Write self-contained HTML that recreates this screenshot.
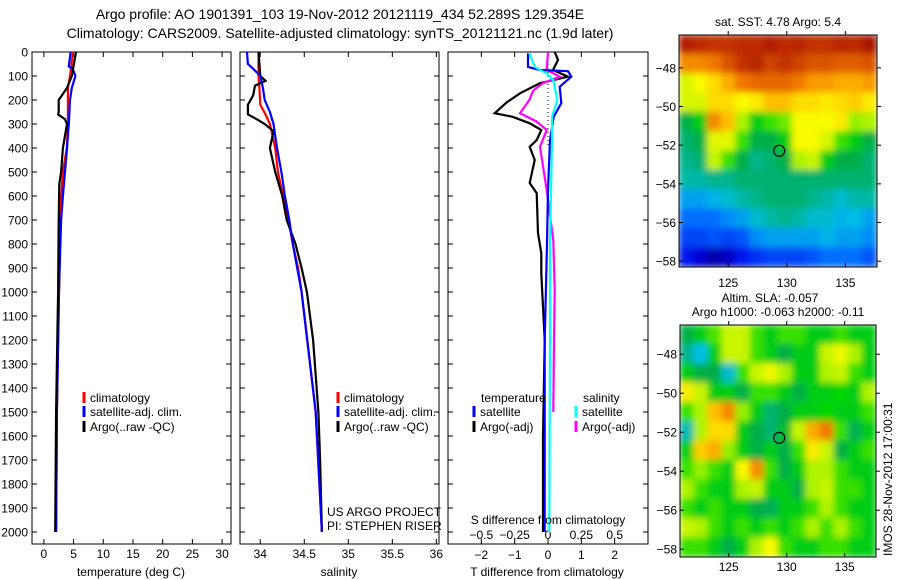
<!DOCTYPE html>
<html><head><meta charset="utf-8"><style>
body{margin:0;background:#fff;}
svg{display:block;font-family:"Liberation Sans",sans-serif;}
</style></head><body>
<svg id="c" width="900" height="580" viewBox="0 0 900 580" xmlns="http://www.w3.org/2000/svg">
<defs>
<filter id="bl" x="-5%" y="-5%" width="110%" height="110%"><feGaussianBlur stdDeviation="3.5"/></filter>
<clipPath id="cm1"><rect x="679" y="35" width="198" height="232"/></clipPath>
<clipPath id="cm2"><rect x="680" y="325" width="196" height="232"/></clipPath>
</defs>
<text x="340" y="19" font-size="14" text-anchor="middle">Argo profile: AO 1901391_103 19-Nov-2012 20121119_434 52.289S 129.354E</text>
<text x="340" y="38" font-size="14" text-anchor="middle">Climatology: CARS2009. Satellite-adjusted climatology: synTS_20121121.nc (1.9d later)</text>
<g id="root"></g>
</svg>
<script>
// ---- data ----
const tDepth = [0,100,150,180,200,250,260,280,300,400,500,550,700,1000,1500,2000];
const tArgo  = [5.4,4.7,3.9,3.05,2.5,2.5,2.4,3.55,3.9,3.2,2.9,2.6,2.5,2.4,2.05,1.9];
const tcDepth = [0,100,150,200,300,400,500,600,800,1000,1500,2000];
const tClim = [4.9,4.4,4.05,4.05,4.05,3.85,3.2,2.9,2.7,2.55,2.2,2.05];
const tsDepth = [0,60,70,100,150,200,300,400,500,600,700,1000,1500,2000];
const tSat = [4.5,4.2,4.85,5.3,4.7,4.4,4.2,3.9,3.55,3.2,2.9,2.55,2.2,2.05];

const sDepth = [0,100,120,140,180,220,260,280,300,330,400,500,600,700,800,900,1000,1200,1500,1700,2000];
const sArgo = [33.98,34.0,34.06,33.94,33.92,33.86,33.86,33.96,34.05,34.15,34.11,34.17,34.25,34.3,34.4,34.47,34.53,34.6,34.66,34.68,34.7];
const scDepth = [0,100,150,220,260,300,400,500,600,700,800,900,1000,1500,2000];
const sClim = [33.98,33.98,33.99,34.0,34.06,34.11,34.17,34.2,34.26,34.32,34.37,34.43,34.47,34.63,34.7];
const ssDepth = [0,50,70,100,150,200,250,300,400,500,600,700,800,900,1000,1500,2000];
const sSat = [33.85,33.86,33.92,34.0,34.03,34.05,34.11,34.15,34.19,34.24,34.28,34.33,34.37,34.42,34.47,34.63,34.7];

const dtaDepth = [0,33,75,103,130,172,210,255,270,297,325,367,395,450,546,588,755,838,922,1200,1600,2000];
const dTArgo = [0.2,0.3,0.15,0.6,-0.24,-0.84,-1.24,-1.6,-1.06,-0.55,-0.2,-0.34,-0.55,-0.4,-0.55,-0.34,-0.3,-0.2,-0.2,-0.1,-0.15,-0.15];
const dtsDepth = [5,62,75,80,103,145,213,270,367,575,800,1200,2000];
const dTSat = [-0.6,-0.6,-0.25,0.6,0.7,0.35,0.4,0.17,0.06,0,-0.03,-0.1,-0.1];
const dssDepth = [5,62,90,117,200,270,367,800,1200,2000];
const dSSat = [-0.14,-0.1,-0.01,0.04,0.07,0.03,0.03,0.015,0.015,0.01];
const dsaDepth = [0,75,103,130,160,200,255,290,325,395,575,785,995,1200,1500];
const dSArgo = [0,-0.01,0.09,-0.04,-0.11,-0.14,-0.21,-0.085,-0.01,-0.06,-0.01,0.04,0.05,0.045,0.04];

const depthTicks = [0,100,200,300,400,500,600,700,800,900,1000,1100,1200,1300,1400,1500,1600,1700,1800,1900,2000];
const tTicks = [0,5,10,15,20,25,30];
const sTicks = [34,34.5,35,35.5,36];
const dTTicks = [-2,-1,0,1,2];
const dSTicks = [-0.5,-0.25,0,0.25,0.5];
const latTicks = [-48,-50,-52,-54,-56,-58];
const lonTicks = [125,130,135];

const sstGrid = [
[0.95,0.93,0.92,0.92,0.93,0.93,0.95,0.93,0.94,0.92,0.92,0.94,0.93,0.97],
[0.82,0.82,0.84,0.88,0.92,0.94,0.9,0.92,0.9,0.88,0.88,0.87,0.87,0.88],
[0.65,0.68,0.72,0.78,0.84,0.86,0.86,0.86,0.84,0.8,0.8,0.78,0.78,0.8],
[0.65,0.65,0.72,0.72,0.68,0.7,0.76,0.76,0.72,0.72,0.7,0.72,0.74,0.7],
[0.45,0.5,0.82,0.76,0.62,0.5,0.55,0.58,0.68,0.68,0.68,0.7,0.6,0.62],
[0.42,0.45,0.66,0.66,0.55,0.45,0.45,0.5,0.68,0.68,0.65,0.55,0.5,0.45],
[0.4,0.42,0.64,0.55,0.45,0.4,0.42,0.45,0.62,0.64,0.5,0.45,0.45,0.42],
[0.38,0.38,0.4,0.4,0.42,0.42,0.42,0.42,0.42,0.42,0.42,0.42,0.42,0.42],
[0.3,0.3,0.32,0.35,0.38,0.4,0.42,0.42,0.42,0.4,0.38,0.35,0.38,0.38],
[0.25,0.25,0.25,0.28,0.3,0.35,0.38,0.4,0.38,0.35,0.35,0.32,0.33,0.3],
[0.2,0.2,0.22,0.2,0.22,0.28,0.3,0.3,0.3,0.3,0.32,0.3,0.3,0.28],
[0.15,0.1,0.05,0.08,0.15,0.18,0.2,0.2,0.2,0.22,0.25,0.25,0.25,0.22]];
const slaGrid = [
[0.45,0.5,0.56,0.64,0.64,0.55,0.5,0.55,0.55,0.5,0.5,0.55,0.5,0.5],
[0.4,0.33,0.5,0.64,0.64,0.55,0.5,0.45,0.5,0.5,0.64,0.67,0.62,0.5],
[0.5,0.45,0.45,0.35,0.55,0.64,0.67,0.62,0.5,0.5,0.62,0.64,0.55,0.5],
[0.7,0.64,0.5,0.5,0.45,0.55,0.55,0.5,0.45,0.5,0.5,0.52,0.5,0.62],
[0.55,0.62,0.76,0.82,0.6,0.5,0.42,0.45,0.5,0.5,0.52,0.5,0.5,0.55],
[0.37,0.62,0.72,0.72,0.5,0.45,0.42,0.47,0.64,0.78,0.84,0.55,0.44,0.5],
[0.5,0.74,0.78,0.6,0.5,0.45,0.5,0.45,0.55,0.7,0.64,0.45,0.5,0.55],
[0.55,0.6,0.55,0.5,0.68,0.82,0.55,0.45,0.5,0.62,0.62,0.55,0.5,0.5],
[0.62,0.55,0.5,0.5,0.62,0.64,0.5,0.5,0.45,0.62,0.64,0.55,0.55,0.5],
[0.55,0.5,0.55,0.5,0.5,0.45,0.44,0.5,0.5,0.55,0.62,0.55,0.5,0.5],
[0.64,0.62,0.55,0.5,0.55,0.5,0.55,0.5,0.55,0.62,0.55,0.62,0.55,0.5],
[0.55,0.55,0.5,0.45,0.5,0.62,0.68,0.55,0.5,0.5,0.55,0.55,0.5,0.5]];
const argoLon = 129.354, argoLat = -52.289;

// ---- helpers ----
const NS="http://www.w3.org/2000/svg";
const root=document.getElementById('root');
function el(tag,attrs,parent){const e=document.createElementNS(NS,tag);for(const k in attrs)e.setAttribute(k,attrs[k]);(parent||root).appendChild(e);return e;}
function txt(s,attrs,parent){const e=el('text',attrs,parent);e.textContent=s;return e;}
const Y0=52,Y1=544,DMAX=2050;
const yD=d=>Y0+d/DMAX*(Y1-Y0);

function panel(name,x0,x1,vmin,vmax){
  const g=el('g',{});
  
  
  const r=el('rect',{x:x0,y:Y0,width:x1-x0,height:Y1-Y0,fill:'none',stroke:'#000','stroke-width':1},g);
  
  
  return {g,x:v=>x0+(v-vmin)/(vmax-vmin)*(x1-x0),x0,x1};
}
function line(p,depths,vals,color,name,conv){
  const pts=depths.map((d,i)=>p.x(conv?conv(vals[i]):vals[i]).toFixed(1)+','+yD(d).toFixed(1)).join(' ');
  const l=el('polyline',{points:pts,fill:'none',stroke:color,'stroke-width':2.2,'stroke-linejoin':'miter'},p.g);
  
  
}
function xticks(p,ticks,conv,labelY,withLabels){
  ticks.forEach(t=>{
    const x=p.x(conv?conv(t):t);
    el('line',{x1:x,x2:x,y1:Y0,y2:Y0+5,stroke:'#000'},p.g);
    el('line',{x1:x,x2:x,y1:Y1,y2:Y1-5,stroke:'#000'},p.g);
    if(withLabels){const e=txt(String(t).replace('-','\u2212'),{x:x,y:labelY,'font-size':12,'text-anchor':'middle'},p.g);
      
      }
  });
}
function yticks(p,labels){
  depthTicks.forEach(d=>{
    const y=yD(d);
    el('line',{x1:p.x0,x2:p.x0+5,y1:y,y2:y,stroke:'#000'},p.g);
    el('line',{x1:p.x1,x2:p.x1-5,y1:y,y2:y,stroke:'#000'},p.g);
    if(labels){const e=txt(String(d),{x:p.x0-4,y:y+4.5,'font-size':12,'text-anchor':'end'},p.g);
      
      }
  });
}
function legendItem(g,x,y,color,label,name){
  if(color){el('line',{x1:x,x2:x,y1:y-10,y2:y+1,stroke:color,'stroke-width':3},g);}
  const e=txt(label,{x:x+6,y:y,'font-size':12},g);
  
  
}

// ---- panel 1 ----
const p1=panel('temperature-panel',32,231,-2,31.5);
xticks(p1,tTicks,null,558,true);
yticks(p1,true);
line(p1,tcDepth,tClim,'#f00','temp-climatology-line');
line(p1,tsDepth,tSat,'#00f','temp-satellite-line');
line(p1,tDepth,tArgo,'#000','temp-argo-line');
{const e=txt('temperature (deg C)',{x:131,y:576,'font-size':12,'text-anchor':'middle'},p1.g);}
legendItem(p1.g,84,402,'#f00','climatology','legend-climatology');
legendItem(p1.g,84,416,'#00f','satellite-adj. clim.','legend-satellite-adj');
legendItem(p1.g,84,431,'#000','Argo(..raw -QC)','legend-argo');

// ---- panel 2 ----
const p2=panel('salinity-panel',240,439,33.77,36.03);
xticks(p2,sTicks,null,558,true);
yticks(p2,false);
line(p2,scDepth,sClim,'#f00','sal-climatology-line');
line(p2,sDepth,sArgo,'#000','sal-argo-line');
legendItem(p2.g,338,402,'#f00','climatology','legend-climatology');
legendItem(p2.g,338,416,'#00f','satellite-adj. clim.','legend-satellite-adj');
legendItem(p2.g,338,431,'#000','Argo(..raw -QC)','legend-argo');
{const e=txt('US ARGO PROJECT',{x:327,y:516,'font-size':12},p2.g);}
{const e=txt('PI: STEPHEN RISER',{x:327,y:530,'font-size':12},p2.g);}
line(p2,ssDepth,sSat,'#00f','sal-satellite-line');
{const e=txt('salinity',{x:339,y:576,'font-size':12,'text-anchor':'middle'},p2.g);}

// ---- panel 3 ----
const p3=panel('difference-panel',448,648,-3,3);
xticks(p3,dTTicks,null,559,true);
yticks(p3,false);
dSTicks.forEach(t=>{const e=txt(String(t).replace('-','\u2212'),{x:p3.x(t*4),y:539,'font-size':12,'text-anchor':'middle'},p3.g);
  });
el('line',{x1:p3.x(0),x2:p3.x(0),y1:Y0,y2:yD(400),stroke:'#000','stroke-dasharray':'1,3'},p3.g);
line(p3,dtaDepth,dTArgo,'#000','dt-argo-line');
line(p3,dsaDepth,dSArgo,'#f0f','ds-argo-line',v=>v*4);
line(p3,dtsDepth,dTSat,'#00f','dt-satellite-line');
line(p3,dssDepth,dSSat,'#0ff','ds-satellite-line',v=>v*4);
legendItem(p3.g,475,402,null,'temperature','legend-temperature-header');
legendItem(p3.g,577,402,null,'salinity','legend-salinity-header');
legendItem(p3.g,474,416,'#00f','satellite','legend-t-satellite');
legendItem(p3.g,474,431,'#000','Argo(-adj)','legend-t-argo');
legendItem(p3.g,576,416,'#0ff','satellite','legend-s-satellite');
legendItem(p3.g,576,431,'#f0f','Argo(-adj)','legend-s-argo');
{const e=txt('S difference from climatology',{x:548,y:524,'font-size':12,'text-anchor':'middle'},p3.g);}
{const e=txt('T difference from climatology',{x:547,y:576,'font-size':12,'text-anchor':'middle'},p3.g);}

// ---- maps ----
const stops=[[0,[0,0,130]],[0.12,[0,0,230]],[0.25,[0,110,255]],[0.33,[0,190,230]],[0.4,[0,180,140]],[0.45,[0,175,70]],[0.52,[0,215,0]],[0.6,[150,240,0]],[0.68,[250,250,0]],[0.76,[255,190,0]],[0.84,[240,120,0]],[0.92,[195,50,0]],[1,[150,0,0]]];
function cmap(v){for(let i=1;i<stops.length;i++){if(v<=stops[i][0]){const a=stops[i-1],b=stops[i],t=(v-a[0])/(b[0]-a[0]);return 'rgb('+a[1].map((c,k)=>Math.round(c+(b[1][k]-c)*t)).join(',')+')';}}return 'rgb(150,0,0)';}
function map(name,grid,x0,x1,y0,y1,lon0,lon1,lat0,lat1,clip,lonLabelY){
  const g=el('g',{});
  
  
  const lx=v=>x0+(v-lon0)/(lon1-lon0)*(x1-x0);
  const ly=v=>y0+(lat0-v)/(lat0-lat1)*(y1-y0);
  const rows=grid.length,cols=grid[0].length;
  const cg=el('g',{'clip-path':'url(#'+clip+')'},g);
  const fg=el('g',{filter:'url(#bl)'},cg);
  const cw=(x1-x0)/cols,ch=(y1-y0)/rows;
  grid.forEach((row,r)=>row.forEach((v,c)=>{
    const cell=el('rect',{x:x0+c*cw-0.5,y:y0+r*ch-0.5,width:cw+1,height:ch+1,fill:cmap(v)},fg);
    
    
  }));
  el('rect',{x:x0,y:y0,width:x1-x0,height:y1-y0,fill:'none',stroke:'#000'},g);
  latTicks.forEach(t=>{const y=ly(t);
    el('line',{x1:x0,x2:x0+4,y1:y,y2:y,stroke:'#000'},g);el('line',{x1:x1,x2:x1+4,y1:y,y2:y,stroke:'#000'},g);
    const e=txt(String(t).replace('-','\u2212'),{x:x0-3,y:y+4.5,'font-size':12,'text-anchor':'end'},g);
    });
  lonTicks.forEach(t=>{const x=lx(t);
    el('line',{x1:x,x2:x,y1:y0,y2:y0-4,stroke:'#000'},g);el('line',{x1:x,x2:x,y1:y1,y2:y1-4,stroke:'#000'},g);
    const e=txt(String(t),{x:x,y:lonLabelY,'font-size':12,'text-anchor':'middle'},g);
    });
  const m=el('circle',{cx:lx(argoLon),cy:ly(argoLat),r:5.5,fill:'none',stroke:'#000','stroke-width':1.2},g);
  
  
}
map('sst-map',sstGrid,679,877,35,267,120.8,137.7,-46.3,-58.3,'cm1',287);
map('sla-map',slaGrid,680,876,325,557,120.8,137.7,-46.5,-58.4,'cm2',571);
{const e=txt('sat. SST: 4.78 Argo: 5.4',{x:778,y:26,'font-size':12,'text-anchor':'middle'});}
{const e=txt('Altim. SLA: -0.057',{x:770,y:302,'font-size':12,'text-anchor':'middle'});}
{const e=txt('Argo h1000: -0.063 h2000: -0.11',{x:778,y:316,'font-size':12,'text-anchor':'middle'});}
{const e=txt('IMOS 28-Nov-2012 17:00:31',{x:0,y:0,'font-size':12,transform:'translate(892,556) rotate(-90)'});}
</script>
</body></html>
